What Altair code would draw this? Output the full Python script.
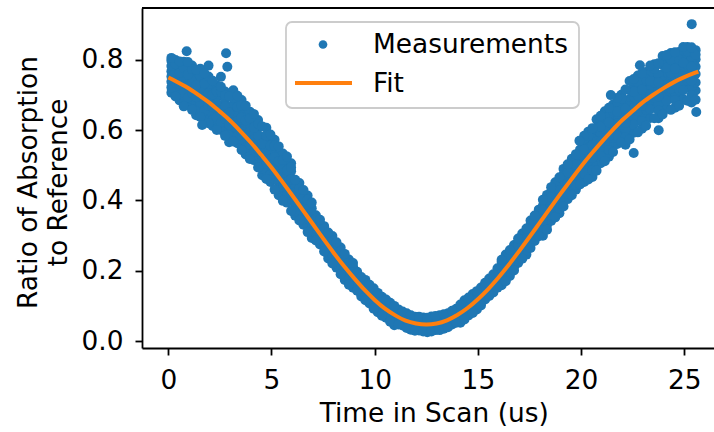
import altair as alt
import pandas as pd

# ---------------- data ----------------
time_us = [
    0.15, 0.35, 0.55, 0.75, 0.95, 1.15, 1.35, 1.55, 1.75, 1.95,
    2.15, 2.35, 2.55, 2.75, 2.95, 3.15, 3.35, 3.55, 3.75, 3.95,
    4.15, 4.35, 4.55, 4.75, 4.95, 5.15, 5.35, 5.55, 5.75, 5.95,
    6.15, 6.35, 6.55, 6.75, 6.95, 7.15, 7.35, 7.55, 7.75, 7.95,
    8.15, 8.35, 8.55, 8.75, 8.95, 9.15, 9.35, 9.55, 9.75, 9.95,
    10.15, 10.35, 10.55, 10.75, 10.95, 11.15, 11.35, 11.55, 11.75, 11.95,
    12.15, 12.35, 12.55, 12.75, 12.95, 13.15, 13.35, 13.55, 13.75, 13.95,
    14.15, 14.35, 14.55, 14.75, 14.95, 15.15, 15.35, 15.55, 15.75, 15.95,
    16.15, 16.35, 16.55, 16.75, 16.95, 17.15, 17.35, 17.55, 17.75, 17.95,
    18.15, 18.35, 18.55, 18.75, 18.95, 19.15, 19.35, 19.55, 19.75, 19.95,
    20.15, 20.35, 20.55, 20.75, 20.95, 21.15, 21.35, 21.55, 21.75, 21.95,
    22.15, 22.35, 22.55, 22.75, 22.95, 23.15, 23.35, 23.55, 23.75, 23.95,
    24.15, 24.35, 24.55, 24.75, 24.95, 25.15, 25.35, 25.55,
]
ratio_a = [
    0.707, 0.718, 0.685, 0.686, 0.672, 0.690, 0.643, 0.660, 0.637, 0.649,
    0.612, 0.619, 0.601, 0.616, 0.566, 0.590, 0.563, 0.574, 0.531, 0.537,
    0.515, 0.527, 0.472, 0.483, 0.453, 0.461, 0.415, 0.418, 0.394, 0.404,
    0.357, 0.359, 0.331, 0.332, 0.293, 0.296, 0.275, 0.273, 0.235, 0.233,
    0.209, 0.206, 0.174, 0.170, 0.152, 0.157, 0.127, 0.125, 0.107, 0.105,
    0.082, 0.079, 0.066, 0.069, 0.045, 0.054, 0.044, 0.046, 0.032, 0.035,
    0.030, 0.037, 0.025, 0.034, 0.031, 0.040, 0.035, 0.045, 0.047, 0.062,
    0.052, 0.070, 0.073, 0.092, 0.090, 0.108, 0.118, 0.140, 0.138, 0.161,
    0.159, 0.186, 0.185, 0.211, 0.222, 0.252, 0.246, 0.277, 0.285, 0.314,
    0.300, 0.331, 0.342, 0.377, 0.364, 0.399, 0.404, 0.437, 0.431, 0.460,
    0.453, 0.494, 0.467, 0.507, 0.506, 0.542, 0.525, 0.557, 0.561, 0.599,
    0.559, 0.600, 0.593, 0.628, 0.604, 0.635, 0.635, 0.673, 0.634, 0.671,
    0.661, 0.692, 0.664, 0.692, 0.688, 0.722, 0.679, 0.713,
]
ratio_b = [
    0.738, 0.751, 0.715, 0.725, 0.714, 0.721, 0.678, 0.698, 0.675, 0.691,
    0.647, 0.658, 0.643, 0.647, 0.601, 0.632, 0.605, 0.619, 0.568, 0.578,
    0.560, 0.561, 0.510, 0.525, 0.495, 0.506, 0.452, 0.459, 0.439, 0.438,
    0.385, 0.390, 0.362, 0.365, 0.320, 0.318, 0.299, 0.291, 0.255, 0.255,
    0.231, 0.230, 0.194, 0.192, 0.176, 0.170, 0.142, 0.141, 0.123, 0.123,
    0.097, 0.096, 0.084, 0.082, 0.060, 0.066, 0.056, 0.059, 0.043, 0.047,
    0.044, 0.047, 0.036, 0.046, 0.043, 0.053, 0.046, 0.057, 0.061, 0.072,
    0.066, 0.085, 0.089, 0.108, 0.104, 0.124, 0.134, 0.153, 0.152, 0.176,
    0.181, 0.210, 0.205, 0.233, 0.246, 0.270, 0.266, 0.299, 0.307, 0.338,
    0.327, 0.361, 0.375, 0.402, 0.392, 0.430, 0.435, 0.470, 0.458, 0.490,
    0.498, 0.528, 0.505, 0.549, 0.548, 0.587, 0.562, 0.598, 0.606, 0.633,
    0.602, 0.647, 0.640, 0.679, 0.647, 0.681, 0.686, 0.711, 0.677, 0.718,
    0.708, 0.743, 0.707, 0.738, 0.739, 0.760, 0.722, 0.760,
]
ratio_c = [
    0.768, 0.776, 0.748, 0.760, 0.739, 0.763, 0.710, 0.733, 0.714, 0.722,
    0.685, 0.693, 0.668, 0.689, 0.632, 0.669, 0.646, 0.653, 0.610, 0.615,
    0.586, 0.606, 0.543, 0.562, 0.536, 0.540, 0.494, 0.496, 0.465, 0.483,
    0.409, 0.417, 0.392, 0.390, 0.351, 0.338, 0.313, 0.315, 0.273, 0.275,
    0.253, 0.248, 0.216, 0.212, 0.190, 0.188, 0.156, 0.156, 0.140, 0.136,
    0.113, 0.111, 0.095, 0.100, 0.073, 0.077, 0.069, 0.069, 0.055, 0.058,
    0.051, 0.060, 0.046, 0.057, 0.056, 0.063, 0.058, 0.068, 0.068, 0.085,
    0.079, 0.099, 0.104, 0.121, 0.120, 0.138, 0.144, 0.170, 0.165, 0.190,
    0.203, 0.228, 0.227, 0.253, 0.260, 0.294, 0.284, 0.319, 0.329, 0.356,
    0.358, 0.388, 0.394, 0.435, 0.416, 0.457, 0.465, 0.495, 0.489, 0.517,
    0.524, 0.573, 0.538, 0.586, 0.589, 0.621, 0.604, 0.635, 0.632, 0.678,
    0.640, 0.689, 0.686, 0.718, 0.694, 0.724, 0.716, 0.762, 0.715, 0.760,
    0.754, 0.782, 0.754, 0.781, 0.769, 0.811, 0.760, 0.802,
]
ratio_d = [
    0.798, 0.800, 0.778, 0.795, 0.777, 0.784, 0.745, 0.775, 0.752, 0.784,
    0.720, 0.728, 0.752, 0.710, 0.668, 0.714, 0.687, 0.686, 0.647, 0.653,
    0.628, 0.629, 0.581, 0.607, 0.577, 0.573, 0.531, 0.534, 0.507, 0.506,
    0.437, 0.450, 0.422, 0.414, 0.378, 0.358, 0.335, 0.327, 0.293, 0.299,
    0.275, 0.266, 0.236, 0.232, 0.212, 0.197, 0.171, 0.174, 0.156, 0.150,
    0.128, 0.126, 0.111, 0.109, 0.089, 0.090, 0.081, 0.079, 0.066, 0.069,
    0.063, 0.067, 0.057, 0.070, 0.068, 0.073, 0.069, 0.079, 0.080, 0.092,
    0.093, 0.116, 0.119, 0.134, 0.134, 0.152, 0.160, 0.178, 0.179, 0.207,
    0.225, 0.246, 0.247, 0.273, 0.282, 0.306, 0.304, 0.343, 0.351, 0.374,
    0.385, 0.416, 0.425, 0.452, 0.444, 0.490, 0.495, 0.519, 0.516, 0.545,
    0.566, 0.596, 0.576, 0.631, 0.630, 0.654, 0.641, 0.673, 0.674, 0.701,
    0.682, 0.740, 0.733, 0.756, 0.736, 0.766, 0.763, 0.788, 0.757, 0.811,
    0.801, 0.820, 0.796, 0.823, 0.816, 0.837, 0.802, 0.828,
]
ratio_e = [
    0.722, 0.734, 0.700, 0.706, 0.693, 0.706, 0.660, 0.679, 0.656, 0.670,
    0.630, 0.638, 0.622, 0.632, 0.584, 0.611, 0.584, 0.596, 0.550, 0.558,
    0.538, 0.544, 0.491, 0.504, 0.474, 0.484, 0.434, 0.438, 0.416, 0.421,
    0.371, 0.374, 0.346, 0.348, 0.306, 0.307, 0.287, 0.282, 0.245, 0.244,
    0.220, 0.218, 0.184, 0.181, 0.164, 0.164, 0.134, 0.133, 0.115, 0.114,
    0.090, 0.088, 0.075, 0.076, 0.052, 0.060, 0.050, 0.052, 0.038, 0.041,
    0.037, 0.042, 0.030, 0.040, 0.037, 0.046, 0.040, 0.051, 0.054, 0.067,
    0.059, 0.078, 0.081, 0.100, 0.097, 0.116, 0.126, 0.146, 0.145, 0.168,
    0.170, 0.198, 0.195, 0.222, 0.234, 0.261, 0.256, 0.288, 0.296, 0.326,
    0.314, 0.346, 0.358, 0.390, 0.378, 0.414, 0.420, 0.454, 0.444, 0.475,
    0.476, 0.511, 0.486, 0.528, 0.527, 0.564, 0.544, 0.578, 0.584, 0.616,
    0.580, 0.624, 0.616, 0.654, 0.626, 0.658, 0.660, 0.692, 0.656, 0.694,
    0.684, 0.718, 0.686, 0.715, 0.714, 0.741, 0.700, 0.736,
]
ratio_f = [
    0.753, 0.764, 0.732, 0.742, 0.726, 0.742, 0.694, 0.716, 0.694, 0.706,
    0.666, 0.676, 0.656, 0.668, 0.616, 0.650, 0.626, 0.636, 0.589, 0.596,
    0.573, 0.584, 0.526, 0.544, 0.516, 0.523, 0.473, 0.478, 0.452, 0.460,
    0.397, 0.404, 0.377, 0.378, 0.336, 0.328, 0.306, 0.303, 0.264, 0.265,
    0.242, 0.239, 0.205, 0.202, 0.183, 0.179, 0.149, 0.148, 0.132, 0.130,
    0.105, 0.104, 0.090, 0.091, 0.066, 0.072, 0.062, 0.064, 0.049, 0.052,
    0.048, 0.054, 0.041, 0.052, 0.050, 0.058, 0.052, 0.062, 0.064, 0.078,
    0.072, 0.092, 0.096, 0.114, 0.112, 0.131, 0.139, 0.162, 0.158, 0.183,
    0.192, 0.219, 0.216, 0.243, 0.253, 0.282, 0.275, 0.309, 0.318, 0.347,
    0.342, 0.374, 0.384, 0.418, 0.404, 0.444, 0.450, 0.482, 0.474, 0.504,
    0.511, 0.550, 0.522, 0.568, 0.568, 0.604, 0.583, 0.616, 0.619, 0.656,
    0.621, 0.668, 0.663, 0.698, 0.670, 0.702, 0.701, 0.736, 0.696, 0.739,
    0.731, 0.762, 0.730, 0.760, 0.754, 0.786, 0.741, 0.781,
]
ratio_g = [
    0.783, 0.788, 0.763, 0.778, 0.758, 0.774, 0.728, 0.754, 0.733, 0.753,
    0.702, 0.710, 0.710, 0.700, 0.650, 0.692, 0.666, 0.670, 0.628, 0.634,
    0.607, 0.618, 0.562, 0.584, 0.556, 0.556, 0.512, 0.515, 0.486, 0.494,
    0.423, 0.434, 0.407, 0.402, 0.364, 0.348, 0.324, 0.321, 0.283, 0.287,
    0.264, 0.257, 0.226, 0.222, 0.201, 0.192, 0.164, 0.165, 0.148, 0.143,
    0.120, 0.118, 0.103, 0.104, 0.081, 0.084, 0.075, 0.074, 0.060, 0.064,
    0.057, 0.064, 0.052, 0.064, 0.062, 0.068, 0.064, 0.074, 0.074, 0.088,
    0.086, 0.108, 0.112, 0.128, 0.127, 0.145, 0.152, 0.174, 0.172, 0.198,
    0.214, 0.237, 0.237, 0.263, 0.271, 0.300, 0.294, 0.331, 0.340, 0.365,
    0.372, 0.402, 0.410, 0.444, 0.430, 0.474, 0.480, 0.507, 0.502, 0.531,
    0.545, 0.584, 0.557, 0.608, 0.610, 0.638, 0.622, 0.654, 0.653, 0.690,
    0.661, 0.714, 0.710, 0.737, 0.715, 0.745, 0.740, 0.775, 0.736, 0.786,
    0.778, 0.801, 0.775, 0.802, 0.792, 0.824, 0.781, 0.815,
]
ratio_h = [
    0.806, 0.696, 0.796, 0.668, 0.794, 0.658, 0.772, 0.638, 0.762, 0.620,
    0.741, 0.601, 0.724, 0.584, 0.696, 0.568, 0.698, 0.544, 0.670, 0.518,
    0.646, 0.494, 0.611, 0.461, 0.588, 0.431, 0.554, 0.399, 0.525, 0.370,
    0.459, 0.343, 0.430, 0.310, 0.394, 0.286, 0.345, 0.255, 0.309, 0.221,
    0.281, 0.190, 0.248, 0.160, 0.222, 0.143, 0.182, 0.116, 0.160, 0.092,
    0.137, 0.072, 0.118, 0.055, 0.100, 0.047, 0.084, 0.037, 0.073, 0.029,
    0.069, 0.027, 0.066, 0.027, 0.071, 0.031, 0.076, 0.039, 0.086, 0.052,
    0.104, 0.061, 0.124, 0.080, 0.142, 0.101, 0.166, 0.128, 0.190, 0.152,
    0.231, 0.170, 0.259, 0.201, 0.292, 0.234, 0.320, 0.265, 0.357, 0.298,
    0.402, 0.317, 0.438, 0.352, 0.466, 0.383, 0.503, 0.415, 0.532, 0.446,
    0.584, 0.460, 0.606, 0.485, 0.641, 0.512, 0.664, 0.538, 0.692, 0.566,
    0.716, 0.574, 0.746, 0.594, 0.762, 0.613, 0.784, 0.634, 0.791, 0.645,
    0.814, 0.658, 0.822, 0.670, 0.837, 0.684, 0.836, 0.687,
]
outlier_time = [0.89, 2.80, 2.86, 1.64, 19.92, 21.44, 22.55, 22.85, 23.76, 25.36, 25.58]
outlier_ratio = [0.825, 0.819, 0.781, 0.615, 0.570, 0.700, 0.535, 0.785, 0.600, 0.902, 0.652]

fit_time = [
    0.0, 0.5, 1.0, 1.5, 2.0, 2.5, 3.0, 3.5, 4.0, 4.5, 5.0, 5.5, 6.0, 6.5,
    7.0, 7.5, 8.0, 8.5, 9.0, 9.5, 10.0, 10.5, 11.0, 11.5, 12.0, 12.5, 13.0,
    13.5, 14.0, 14.5, 15.0, 15.5, 16.0, 16.5, 17.0, 17.5, 18.0, 18.5, 19.0,
    19.5, 20.0, 20.5, 21.0, 21.5, 22.0, 22.5, 23.0, 23.5, 24.0, 24.5, 25.0,
    25.5, 25.68,
]
fit_ratio = [
    0.750, 0.735, 0.719, 0.699, 0.678, 0.653, 0.627, 0.597, 0.565, 0.530,
    0.494, 0.455, 0.415, 0.374, 0.333, 0.292, 0.252, 0.214, 0.179, 0.146,
    0.117, 0.092, 0.073, 0.058, 0.050, 0.047, 0.050, 0.059, 0.074, 0.094,
    0.119, 0.148, 0.181, 0.217, 0.256, 0.296, 0.337, 0.378, 0.419, 0.458,
    0.497, 0.533, 0.567, 0.599, 0.629, 0.655, 0.680, 0.701, 0.720, 0.737,
    0.751, 0.763, 0.767,
]

x_ticks = [0, 5, 10, 15, 20, 25]
y_ticks = [0.0, 0.2, 0.4, 0.6, 0.8]
legend_labels = ["Measurements", "Fit"]
x_title = "Time in Scan (us)"
y_title = ["Ratio of Absorption", "to Reference"]

# ---------------- tables ----------------
meas = pd.DataFrame({
    "t": time_us * 8 + outlier_time,
    "r": (ratio_a + ratio_b + ratio_c + ratio_d + ratio_e + ratio_f
          + ratio_g + ratio_h + outlier_ratio),
})
fit = pd.DataFrame({"t": fit_time, "r": fit_ratio})
one = pd.DataFrame({"k": [0]})

# ---------------- style ----------------
FONT = "DejaVu Sans"
FS = 26.4
BLUE = "#1f77b4"
ORANGE = "#ff7f0e"
W, H = 572, 340

xscale = alt.Scale(domain=[-1.274, 26.44], nice=False, zero=False)
yscale = alt.Scale(domain=[-0.0199, 0.948], nice=False, zero=False)

xaxis = alt.Axis(
    values=x_ticks, format="d", title=x_title, grid=False,
    domainColor="black", domainWidth=1.8, tickColor="black", tickWidth=1.8,
    tickSize=7, labelFont=FONT, labelFontSize=FS, labelColor="black",
    labelPadding=12, labelFlush=False, titleFont=FONT, titleFontSize=FS,
    titleFontWeight="normal", titleColor="black", titleX=291.7, titleY=73,
    titleAlign="center", titleBaseline="alphabetic",
)
yaxis = alt.Axis(
    values=y_ticks, format=".1f", title=y_title, grid=False,
    domainColor="black", domainWidth=1.8, tickColor="black", tickWidth=1.8,
    tickSize=7, labelFont=FONT, labelFontSize=FS, labelColor="black",
    labelPadding=12, labelFlush=False, titleFont=FONT, titleFontSize=FS,
    titleFontWeight="normal", titleColor="black", titleAngle=270,
    titleX=-106, titleY=174, titleAlign="center", titleBaseline="alphabetic",
    titleLineHeight=30,
)

points = alt.Chart(meas).mark_circle(color=BLUE, size=100, opacity=1).encode(
    x=alt.X("t:Q", scale=xscale, axis=xaxis),
    y=alt.Y("r:Q", scale=yscale, axis=yaxis),
)
fit_line = alt.Chart(fit).mark_line(
    color=ORANGE, strokeWidth=4, interpolate="monotone"
).encode(x=alt.X("t:Q", scale=xscale), y=alt.Y("r:Q", scale=yscale))

top_spine = alt.Chart(one).mark_rule(color="black", strokeWidth=1.8).encode(
    x=alt.value(0), x2=alt.value(W), y=alt.value(0)
)

legend_box = alt.Chart(one).mark_rect(
    fill="white", fillOpacity=0.8, stroke="#cccccc", strokeWidth=1.8,
    cornerRadius=6,
).encode(x=alt.value(144), x2=alt.value(437), y=alt.value(14), y2=alt.value(100))
legend_dot = alt.Chart(one).mark_circle(color=BLUE, size=75, opacity=1).encode(
    x=alt.value(181), y=alt.value(36.5)
)
legend_line = alt.Chart(one).mark_rule(color=ORANGE, strokeWidth=4).encode(
    x=alt.value(153), x2=alt.value(210), y=alt.value(75)
)
legend_t1 = alt.Chart(pd.DataFrame({"label": [legend_labels[0]]})).mark_text(
    align="left", baseline="middle", font=FONT, fontSize=FS, color="black"
).encode(text="label:N", x=alt.value(231), y=alt.value(37))
legend_t2 = alt.Chart(pd.DataFrame({"label": [legend_labels[1]]})).mark_text(
    align="left", baseline="middle", font=FONT, fontSize=FS, color="black"
).encode(text="label:N", x=alt.value(231), y=alt.value(76))

chart = alt.layer(
    points, fit_line, top_spine, legend_box, legend_dot, legend_line,
    legend_t1, legend_t2,
).properties(
    width=W, height=H,
    autosize=alt.AutoSizeParams(type="none"),
    padding={"left": 142, "top": 8, "right": 0, "bottom": 84},
    background="white",
).configure_view(strokeWidth=0)

chart.save("out.html", embed_options={"renderer": "svg", "actions": False})
